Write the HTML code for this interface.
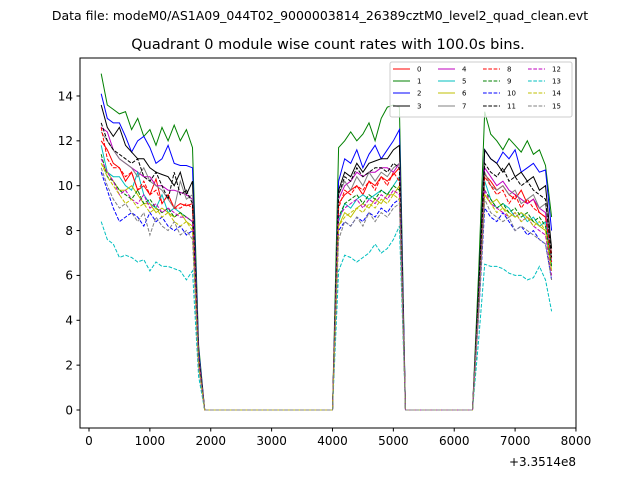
<!DOCTYPE html>
<html><head><meta charset="utf-8"><style>
body{margin:0;background:#fff}
svg text{font-family:"DejaVu Sans","Liberation Sans",sans-serif}
</style></head><body>
<svg id="chart" width="640" height="480" xmlns="http://www.w3.org/2000/svg">
<text x="320" y="20" font-size="12.5" text-anchor="middle">Data file: modeM0/AS1A09_044T02_9000003814_26389cztM0_level2_quad_clean.evt</text>
<text x="328" y="49" font-size="14.5" text-anchor="middle">Quadrant 0 module wise count rates with 100.0s bins.</text>
<g id="plot"></g>
<rect x="80" y="58" width="496" height="370" fill="none" stroke="#000" stroke-width="1"/>
<g id="ticks"></g>
<text x="576" y="466" font-size="12" text-anchor="end">+3.3514e8</text>
<g id="legend"></g>
</svg>
<script>
const times=[200,300,400,500,600,700,800,900,1000,1100,1200,1300,1400,1500,1600,1700,1800,1900,4000,4100,4200,4300,4400,4500,4600,4700,4800,4900,5000,5100,5200,6300,6400,6500,6600,6700,6800,6900,7000,7100,7200,7300,7400,7500,7600];
const s0seg1=[12.0,11.6,11.0,10.8,10.2,10.6,9.8,10.0,9.6,10.3,9.2,9.6,9.0,9.2,9.1,9.2],s0seg2=[9.2,9.6,9.8,10.0,9.6,10.2,10.0,10.4,10.2,10.5,10.8],s0seg3=[10.5,10.2,9.8,10.0,9.6,9.4,9.8,9.2,9.4,8.8,8.6,7.0];
const s1seg1=[15.0,13.6,13.4,13.2,13.3,12.5,13.0,12.2,12.5,11.8,12.6,12.0,12.7,12.0,12.5,11.7],s1seg2=[11.7,12.0,12.4,12.0,12.3,12.8,12.0,13.0,13.5,13.6,13.5],s1seg3=[13.3,12.3,12.0,11.6,12.1,11.8,11.5,12.0,11.4,11.6,10.9,8.6];
const s2seg1=[14.1,13.0,12.8,12.8,12.2,11.5,12.0,12.2,11.7,11.0,11.2,11.8,11.0,10.9,10.9,10.8],s2seg2=[10.2,11.2,11.0,11.6,10.8,11.4,11.8,11.2,11.6,12.0,12.5],s2seg3=[11.6,11.2,11.0,11.5,11.2,11.6,10.6,10.8,11.0,10.6,10.7,8.0];
const s3seg1=[13.6,12.6,12.2,12.6,11.8,11.5,11.2,11.2,10.8,10.6,10.5,10.4,10.0,10.6,9.6,10.2],s3seg2=[9.8,10.6,10.4,11.0,10.6,11.0,11.1,11.2,11.2,11.6,11.8],s3seg3=[11.6,11.2,11.0,10.6,11.0,10.4,10.6,10.2,10.4,9.8,10.0,7.2];
const s4seg1=[12.6,12.4,11.6,11.2,11.0,10.8,10.6,10.4,10.4,10.0,10.0,9.8,9.8,9.7,9.6,9.4],s4seg2=[9.4,10.0,10.2,10.6,10.4,10.6,10.6,10.8,10.8,10.6,11.0],s4seg3=[10.8,10.4,10.0,10.2,9.8,9.6,9.4,9.2,9.4,9.0,8.8,6.6];
const s5seg1=[11.8,10.6,10.4,10.4,10.0,9.8,10.6,9.6,9.2,9.0,9.6,8.8,9.0,8.8,8.6,8.4],s5seg2=[8.4,9.2,9.0,9.4,9.6,9.4,9.6,9.8,9.6,10.0,10.4],s5seg3=[10.2,9.4,9.0,9.2,9.0,8.6,8.8,8.4,8.6,8.2,8.4,6.4];
const s6seg1=[11.0,10.6,10.2,9.8,9.8,10.0,9.6,9.2,9.2,8.8,9.0,8.8,8.6,8.8,8.4,8.2],s6seg2=[8.2,8.8,8.6,9.0,9.2,9.0,9.4,9.2,9.6,9.6,10.0],s6seg3=[9.6,9.2,9.4,9.0,8.8,8.6,8.8,8.6,8.4,8.2,8.0,6.2];
const s7seg1=[12.4,12.0,11.6,11.2,11.0,10.8,10.4,10.8,10.2,10.0,9.8,9.4,9.0,10.2,9.4,9.6],s7seg2=[9.6,10.2,9.8,10.4,10.0,10.6,10.2,10.6,10.4,10.8,11.0],s7seg3=[10.6,10.0,9.8,10.0,9.6,9.8,9.2,9.4,9.6,9.0,9.2,6.8];
const s8seg1=[12.6,11.2,10.8,10.8,10.4,10.6,9.8,10.2,9.6,9.8,9.2,9.6,9.0,9.0,9.2,9.0],s8seg2=[9.0,9.8,9.6,10.0,9.8,10.2,9.8,10.4,10.0,10.6,10.2],s8seg3=[10.4,10.0,9.6,9.8,9.2,9.6,9.0,9.4,9.0,8.8,8.6,6.6];
const s9seg1=[11.4,10.4,10.2,9.8,9.6,9.4,9.8,9.2,9.4,9.0,8.8,9.0,8.6,8.8,8.6,8.4],s9seg2=[8.6,9.2,9.4,9.6,9.2,9.6,9.4,9.8,9.6,10.0,9.8],s9seg3=[9.8,9.4,9.0,9.2,8.8,9.0,8.6,8.8,8.4,8.6,8.2,6.4];
const s10seg1=[10.6,9.8,9.0,8.4,8.6,8.8,8.6,8.2,8.8,8.4,8.6,8.2,8.0,8.2,7.8,8.0],s10seg2=[8.0,8.4,8.2,8.6,8.4,8.8,8.6,9.0,8.8,9.2,9.4],s10seg3=[9.0,8.6,8.4,8.8,8.4,8.0,8.2,7.8,8.0,7.6,7.4,5.8];
const s11seg1=[12.8,12.0,11.6,11.4,11.2,11.0,11.2,10.4,10.2,10.6,10.0,9.4,10.6,9.6,9.8,9.2],s11seg2=[9.6,10.4,10.2,10.8,10.4,10.6,10.8,10.8,10.6,11.0,10.8],s11seg3=[11.0,10.6,10.4,10.8,10.2,10.4,10.0,10.2,9.8,9.6,9.4,6.8];
const s12seg1=[11.2,10.6,10.2,9.6,9.8,9.4,9.2,9.6,9.0,9.2,8.8,9.0,8.8,8.6,8.6,8.4],s12seg2=[8.6,9.0,9.2,9.4,9.0,9.4,9.2,9.6,9.4,9.8,9.6],s12seg3=[9.8,9.2,9.0,8.8,8.6,8.8,8.4,8.6,8.2,8.0,7.8,6.0];
const s13seg1=[8.4,7.6,7.4,6.8,6.9,6.8,6.6,6.7,6.2,6.6,6.4,6.4,6.3,6.2,5.8,6.2],s13seg2=[6.2,6.9,6.8,6.6,6.8,7.0,7.4,7.0,7.2,7.6,8.2],s13seg3=[6.5,6.4,6.4,6.3,6.1,6.0,6.0,5.8,5.9,6.4,5.8,4.4];
const s14seg1=[11.0,10.4,10.0,9.6,9.2,9.4,9.0,9.2,8.8,9.0,8.6,8.8,8.4,8.2,8.4,8.0],s14seg2=[8.2,8.6,8.8,9.0,8.8,9.2,9.0,9.4,9.2,9.6,9.4],s14seg3=[9.6,9.2,8.8,9.0,8.6,8.8,8.4,8.6,8.2,8.4,8.0,6.2];
const s15seg1=[10.8,10.0,9.4,9.0,9.2,8.8,8.4,8.8,7.8,8.6,8.2,8.0,8.4,7.8,8.0,7.6],s15seg2=[7.6,8.4,8.2,8.6,8.2,8.8,8.4,8.8,8.6,9.0,9.2],s15seg3=[9.4,8.8,8.6,8.4,8.6,8.0,8.2,8.0,7.8,7.6,7.4,5.8];
const mid1800=[2.3,2.9,2.7,2.5,2.4,2.1,2.0,2.4,2.2,2.1,2.0,2.3,2.1,1.5,2.0,1.9];
const mid6400=[4.9,6.1,5.3,5.3,4.9,4.7,4.4,4.8,4.8,4.5,4.2,5.0,4.5,3.1,4.4,4.3];
const seg1=[s0seg1,s1seg1,s2seg1,s3seg1,s4seg1,s5seg1,s6seg1,s7seg1,s8seg1,s9seg1,s10seg1,s11seg1,s12seg1,s13seg1,s14seg1,s15seg1];
const seg2=[s0seg2,s1seg2,s2seg2,s3seg2,s4seg2,s5seg2,s6seg2,s7seg2,s8seg2,s9seg2,s10seg2,s11seg2,s12seg2,s13seg2,s14seg2,s15seg2];
const seg3=[s0seg3,s1seg3,s2seg3,s3seg3,s4seg3,s5seg3,s6seg3,s7seg3,s8seg3,s9seg3,s10seg3,s11seg3,s12seg3,s13seg3,s14seg3,s15seg3];
const seriesLabels=["0","1","2","3","4","5","6","7","8","9","10","11","12","13","14","15"];
const xTicks=[0,1000,2000,3000,4000,5000,6000,7000,8000];
const yTicks=[0,2,4,6,8,10,12,14];

const colors=["#ff0000","#008000","#0000ff","#000000","#bf00bf","#00bfbf","#bfbf00","#808080"];
const NS="http://www.w3.org/2000/svg";
const xs=t=>89+t*0.06087;
const ys=v=>410-v*22.43;
function mk(tag,attrs,parent){const e=document.createElementNS(NS,tag);for(const k in attrs)e.setAttribute(k,attrs[k]);parent.appendChild(e);return e;}
const plot=document.getElementById('plot'),ticks=document.getElementById('ticks'),legend=document.getElementById('legend');
for(let i=0;i<16;i++){
  const vals=[...seg1[i],mid1800[i],0,0,...seg2[i],0,0,mid6400[i],...seg3[i]];
  const pts=times.map((t,j)=>xs(t).toFixed(1)+","+ys(vals[j]).toFixed(1)).join(" ");
  const pl=mk('polyline',{points:pts,fill:"none",stroke:colors[i%8],"stroke-width":1,"stroke-dasharray":i>=8?"3.7,1.6":"none"},plot);
  
  
}
xTicks.forEach(t=>{
  const x=xs(t);
  const l=mk('line',{x1:x,x2:x,y1:428,y2:431.5,stroke:"#000"},ticks);
  
  
  const tx=mk('text',{x:x,y:445,"font-size":12,"text-anchor":"middle"},ticks);tx.textContent=t;
  
  
});
yTicks.forEach(v=>{
  const y=ys(v);
  const l=mk('line',{x1:76.5,x2:80,y1:y,y2:y,stroke:"#000"},ticks);
  
  
  const tx=mk('text',{x:73,y:y+4.3,"font-size":12,"text-anchor":"end"},ticks);tx.textContent=v;
  
  
});
const lb=mk('rect',{x:390,y:62,width:182,height:55,fill:"#fff","fill-opacity":0.8,stroke:"#ccc",rx:2},legend);


const colX=[393,438,483,528],rowY=[69,81,93,106];
for(let i=0;i<16;i++){
  const c=Math.floor(i/4),r=i%4,x=colX[c],y=rowY[r];
  const g=mk('g',{},legend);
  
  
  mk('line',{x1:x,x2:x+17,y1:y,y2:y,stroke:colors[i%8],"stroke-width":1,"stroke-dasharray":i>=8?"3.7,1.6":"none"},g);
  const t=mk('text',{x:x+24,y:y+2.5,"font-size":7},g);t.textContent=seriesLabels[i];
}
</script>
</body></html>
